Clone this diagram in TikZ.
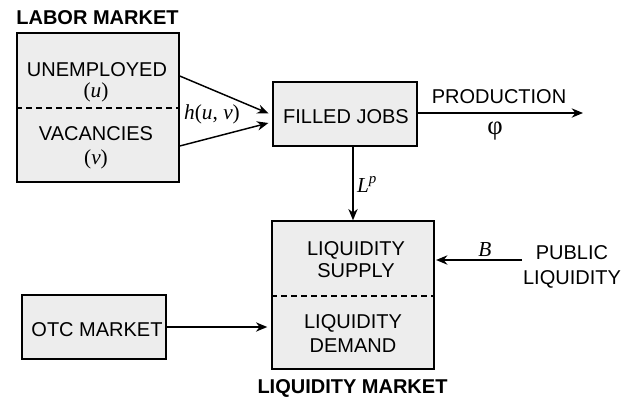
\documentclass[tikz,border=0pt]{standalone}
\usepackage{fontspec}
\setmainfont{Liberation Sans}
\newfontfamily\serifgreek{Liberation Serif}
\usetikzlibrary{arrows.meta}
\definecolor{boxgray}{gray}{0.93}
\newcommand{\mv}[1]{{\serifgreek\itshape #1}}
\tikzset{
  mkt/.style={draw, fill=boxgray, line width=1.1pt, inner sep=0pt},
  flow/.style={-{Stealth[length=8.5pt,width=7pt]}, line width=1.1pt},
  sep/.style={dash pattern=on 4.5pt off 3pt, line width=0.8pt},
  lbl/.style={anchor=base, inner sep=0pt, font=\fontsize{15}{18}\selectfont},
  mlbl/.style={anchor=base, inner sep=0pt, font=\fontsize{16}{18}\selectfont\serifgreek},
  ttl/.style={lbl, font=\fontsize{15}{18}\selectfont\bfseries}
}
\begin{document}
\begin{tikzpicture}[x=0.75pt,y=-0.75pt]
\useasboundingbox (0,0) rectangle (622,397);
% market boxes
\node[mkt, minimum width=121.5pt, minimum height=111.75pt] (labor) at (98,107.5) {};
\node[mkt, minimum width=108pt, minimum height=48pt] (filled) at (345,114) {};
\node[mkt, minimum width=121.5pt, minimum height=111pt] (liq) at (353,295) {};
\node[mkt, minimum width=108pt, minimum height=48pt] (otc) at (94,327) {};
\draw[sep] (labor.west |- 0,108) -- (labor.east |- 0,108);
\draw[sep] (liq.west |- 0,296) -- (liq.east |- 0,296);
% texts
\node[ttl] (labortitle) at (97.5,24) {LABOR MARKET};
\node[ttl] (liqtitle) at (352.5,393) {LIQUIDITY MARKET};
\foreach \n/\x/\y/\t in {un/97/76/UNEMPLOYED, vac/96/140/VACANCIES,
  fj/346/123/FILLED JOBS, ls1/356/255/LIQUIDITY, ls2/356/277/SUPPLY, ld1/353/328/LIQUIDITY, ld2/353/352/DEMAND,
  otcm/97/336/OTC MARKET, pl1/572/259/PUBLIC, pl2/572/284/LIQUIDITY}{\node[lbl] (\n) at (\x,\y) {\t};}
\node[mlbl] (u) at (96,97) {(\mv{u})};
\node[mlbl] (v) at (96,164) {(\mv{v})};
% flows
\draw[flow, shorten >=3pt] (labor.east |- 0,76) -- (filled.west |- 0,115);
\draw[flow, shorten >=3pt] (labor.east |- 0,146) -- (filled.west |- 0,122);
\node[mlbl] (huv) at (212,119) {\mv{h}(\mv{u}, \mv{v})};
\coordinate (prodend) at (583,113);
\draw[flow] (filled.east |- prodend) -- (prodend);
\node[lbl] (prod) at (499,103) {PRODUCTION};
\node[mlbl, font=\fontsize{20}{20}\selectfont\serifgreek] (phi) at (495,134) {φ};
\draw[flow] (liq.north |- filled.south) -- (liq.north);
\node[mlbl] (lp) at (367,192) {\mv{L}\textsuperscript{\mv{p}}};
\coordinate (pubend) at (522,260);
\draw[flow, shorten >=1pt] (pubend) -- (liq.east |- pubend);
\node[mlbl] (b) at (485,256) {\mv{B}};
\draw[flow, shorten >=3pt] (otc.east) -- (liq.west |- otc.east);
\end{tikzpicture}
\end{document}
